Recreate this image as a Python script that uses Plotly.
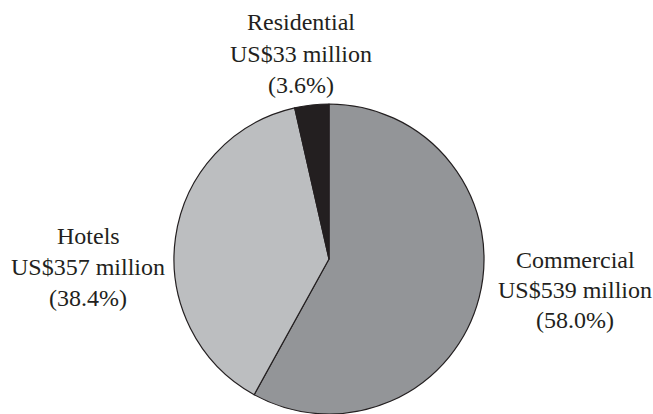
import plotly.graph_objects as go

# Revenue breakdown by segment (US$ million)
segments = ["Commercial", "Hotels", "Residential"]
revenue = [539, 357, 33]
shares = ["58.0%", "38.4%", "3.6%"]
colors = ["#939598", "#bcbec0", "#231f20"]

W, H = 653, 414

fig = go.Figure(
    go.Pie(
        labels=segments,
        values=revenue,
        sort=False,
        direction="clockwise",
        rotation=0,
        textinfo="none",
        hoverinfo="label+value+percent",
        marker=dict(colors=colors, line=dict(color="#231f20", width=1.2)),
        domain=dict(x=[174 / W, 484 / W], y=[0, 310 / H]),
        showlegend=False,
    )
)

# label blocks: centre x and the vertical middles of the three lines (pixels from top)
label_pos = {
    "Commercial": (575, [260, 290, 320]),
    "Hotels": (88, [236, 267, 298]),
    "Residential": (301, [22, 54, 85]),
}

font = dict(family="Liberation Serif", size=24, color="#231f20")
for name, val, pct in zip(segments, revenue, shares):
    cx, ys = label_pos[name]
    lines = [name, f"US${val} million", f"({pct})"]
    for text, y in zip(lines, ys):
        fig.add_annotation(
            x=cx / W, y=1 - y / H, xref="paper", yref="paper",
            text=text, showarrow=False, xanchor="center", yanchor="middle",
            font=font,
        )

fig.update_layout(
    width=W, height=H,
    margin=dict(l=0, r=0, t=0, b=0),
    paper_bgcolor="white", plot_bgcolor="white",
)

fig.write_html("out.html")
